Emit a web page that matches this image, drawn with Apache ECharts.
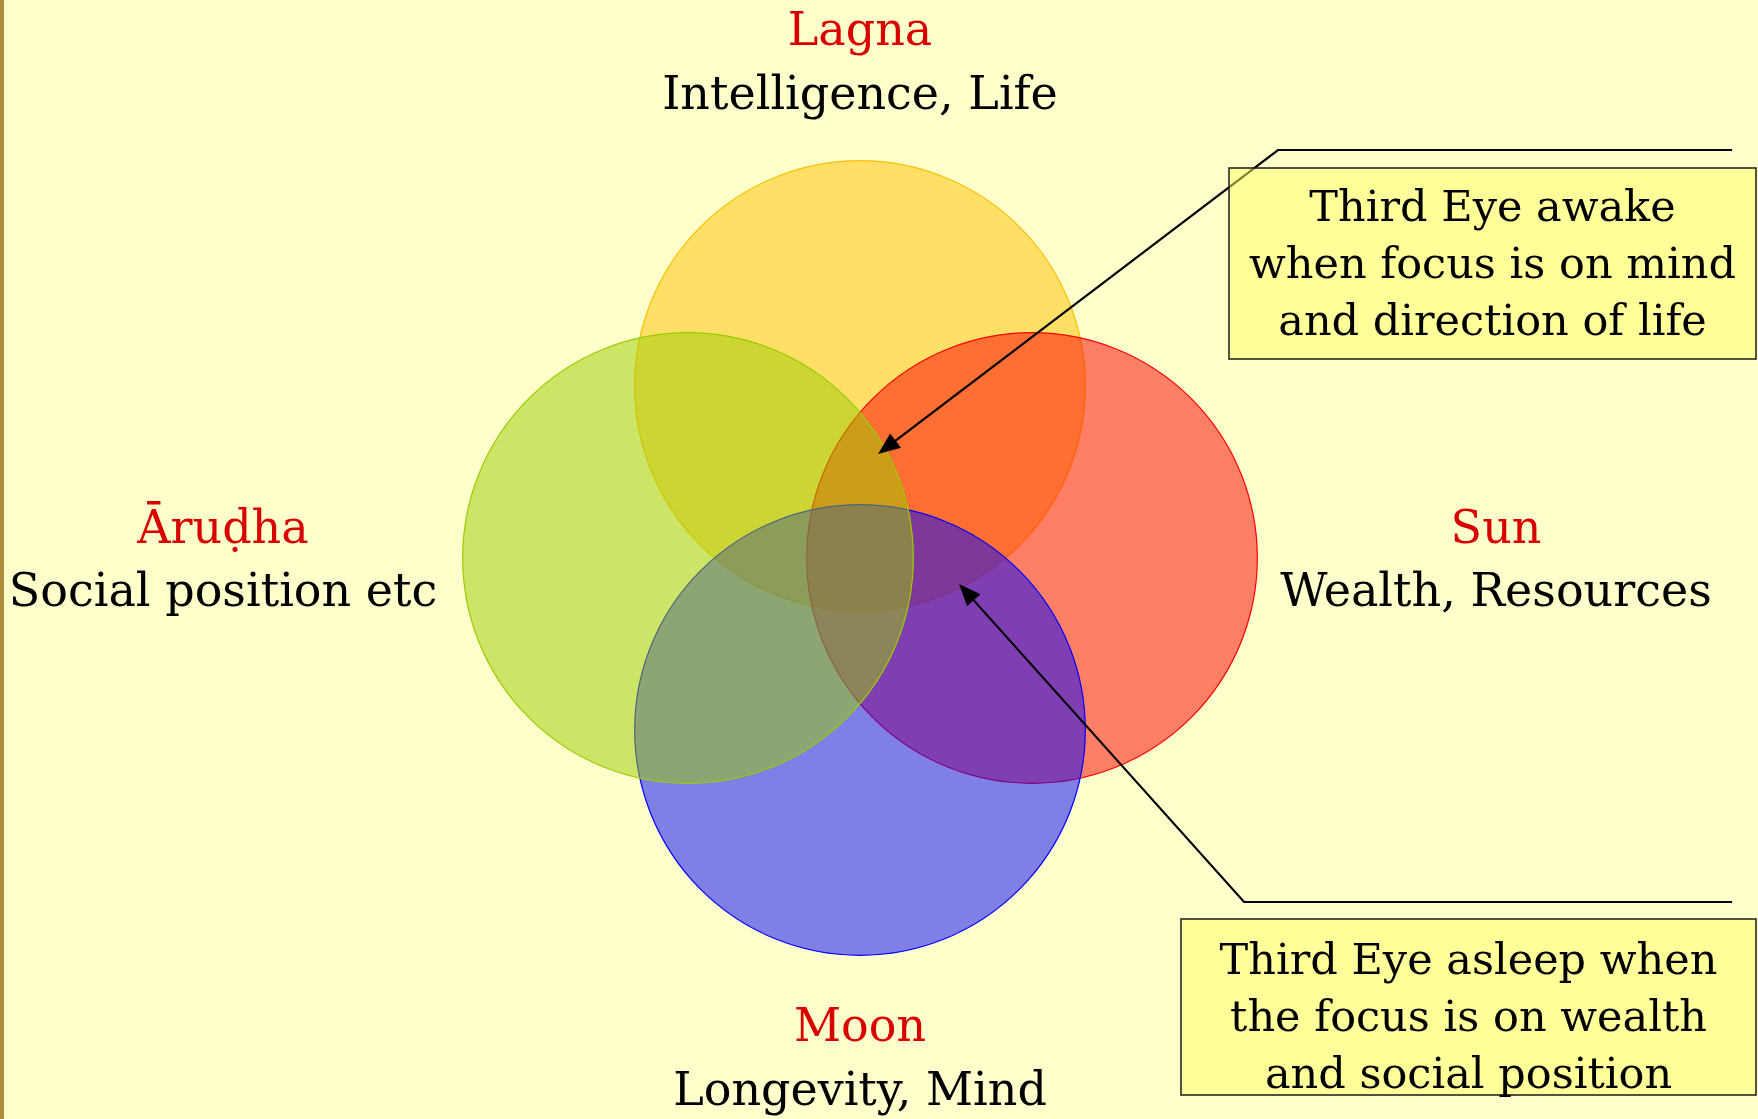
<!DOCTYPE html>
<html><head><meta charset="utf-8">
<script src="https://cdn.jsdelivr.net/npm/echarts@6/dist/echarts.min.js"></script>
<style>html,body{margin:0;padding:0;background:#FFFFCC;} #c{width:1758px;height:1119px;}</style>
</head><body><div id="c"></div>
<script>
// ---- data ----
const setNames    = ['Lagna', 'Sun', 'Moon', 'Āruḍha'];
const setMeanings = ['Intelligence, Life', 'Wealth, Resources', 'Longevity, Mind', 'Social position etc'];
const centerX     = [0, 1, 0, -1];
const centerY     = [1, 0, -1, 0];
const radius      = [1.31, 1.31, 1.31, 1.31];
const calloutTexts = [
  'Third Eye awake\nwhen focus is on mind\nand direction of life',
  'Third Eye asleep when\nthe focus is on wealth\nand social position'
];

// ---- styles ----
const setColors = ['#FFC000', '#FF0000', '#0000FF', '#99CC00'];
const FONT = '"DejaVu Serif", serif';

function hexA(hex, a) {
  const n = parseInt(hex.slice(1), 16);
  return 'rgba(' + ((n >> 16) & 255) + ',' + ((n >> 8) & 255) + ',' + (n & 255) + ',' + a + ')';
}

const circleData = setNames.map((n, i) => [centerX[i], centerY[i], radius[i]]);

// arrow paths: [end x, end y, elbow x, elbow y, tip x, tip y] in chart units
const arrowData = [
  [5.07, 2.372, 2.430, 2.372, 0.105, 0.605],
  [5.07, -2.0, 2.233, -2.0, 0.576, -0.151]
];

const chart = echarts.init(document.getElementById('c'), null, {renderer: 'canvas'});

// label anchors (pixels)
const labelPos = [
  {x: 860, nameY: 33, meanY: 97},
  {x: 1496, nameY: 531, meanY: 594},
  {x: 860, nameY: 1029, meanY: 1093},
  {x: 223, nameY: 531, meanY: 594}
];
const graphic = [
  {type: 'rect', shape: {x: 0, y: 0, width: 4, height: 1119}, style: {fill: '#B38C3A'}, z: 100}
];
setNames.forEach((n, i) => {
  graphic.push({type: 'text', x: labelPos[i].x, y: labelPos[i].nameY, z: 100,
    style: {text: n, fill: '#D90000', font: '46px ' + FONT, align: 'center', verticalAlign: 'middle'}});
  graphic.push({type: 'text', x: labelPos[i].x, y: labelPos[i].meanY, z: 100,
    style: {text: setMeanings[i], fill: '#000', font: '46px ' + FONT, align: 'center', verticalAlign: 'middle'}});
});
const boxes = [
  {x: 1229, y: 168, w: 527, h: 191, cy: 267},
  {x: 1181, y: 919, w: 575, h: 176, cy: 1020}
];
boxes.forEach((b, i) => {
  graphic.push({type: 'rect', shape: {x: b.x, y: b.y, width: b.w, height: b.h}, z: 100,
    style: {fill: 'rgba(255,255,102,0.5)', stroke: '#1a1a1a', lineWidth: 1.5}});
  graphic.push({type: 'text', x: b.x + b.w / 2, y: b.cy, z: 101,
    style: {text: calloutTexts[i], fill: '#000', font: '43px ' + FONT, lineHeight: 57, align: 'center', verticalAlign: 'middle'}});
});

chart.setOption({
  backgroundColor: '#FFFFCC',
  animation: false,
  grid: {left: 0, right: 0, top: 0, bottom: 0},
  xAxis: {type: 'value', min: -5, max: 5.2209, show: false},
  yAxis: {type: 'value', min: -3.2616, max: 3.2442, show: false},
  graphic: graphic,
  series: [
    {
      type: 'custom', name: 'sets', clip: false, z: 2,
      data: circleData,
      renderItem: function (params, api) {
        const i = params.dataIndex;
        const c = api.coord([api.value(0), api.value(1)]);
        const s = api.size([api.value(2), api.value(2)]);
        return {type: 'circle', shape: {cx: c[0], cy: c[1], r: s[0]},
          style: {fill: hexA(setColors[i], 0.5), stroke: setColors[i], lineWidth: 1.2}};
      }
    },
    {
      type: 'custom', name: 'callouts', clip: false, z: 5,
      data: arrowData,
      renderItem: function (params, api) {
        const p0 = api.coord([api.value(0), api.value(1)]);
        const p1 = api.coord([api.value(2), api.value(3)]);
        const p2 = api.coord([api.value(4), api.value(5)]);
        const dx = p2[0] - p1[0], dy = p2[1] - p1[1], L = Math.hypot(dx, dy);
        const ux = dx / L, uy = dy / L, hl = 22, hw = 9;
        const bx = p2[0] - ux * hl, by = p2[1] - uy * hl;
        return {type: 'group', children: [
          {type: 'polyline', shape: {points: [p0, p1, [bx + ux * 2, by + uy * 2]]}, style: {stroke: '#000', lineWidth: 2.2, fill: null}},
          {type: 'polygon', shape: {points: [p2, [bx - uy * hw, by + ux * hw], [bx + uy * hw, by - ux * hw]]}, style: {fill: '#000'}}
        ]};
      }
    }
  ]
});
</script>
</body></html>
